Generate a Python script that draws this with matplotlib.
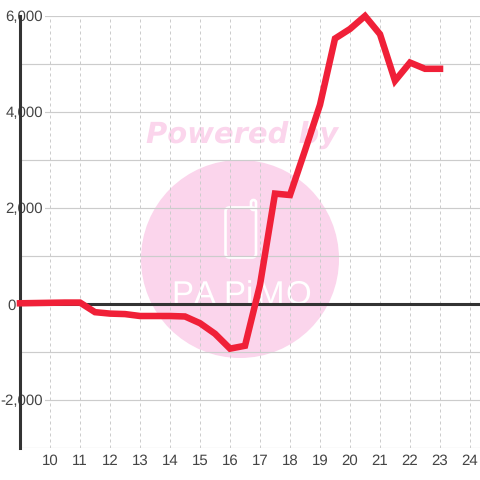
import matplotlib
matplotlib.use("Agg")
import matplotlib.pyplot as plt
from matplotlib.patches import Circle, FancyBboxPatch
from matplotlib.transforms import Affine2D

# ====== DATA ======
hours = [9, 9.5, 10, 10.5, 11, 11.5, 12, 12.5, 13, 13.5, 14, 14.5, 15, 15.5, 16, 16.5,
         17, 17.5, 18, 18.5, 19, 19.5, 20, 20.5, 21, 21.5, 22, 22.5, 23]
values = [15, 20, 25, 30, 30, -170, -200, -210, -250, -250, -250, -260, -400, -620, -930, -870,
          400, 2300, 2270, 3200, 4150, 5530, 5730, 6000, 5620, 4650, 5030, 4900, 4900]
x_ticks = list(range(10, 25))
y_ticks = [-2000, 0, 2000, 4000, 6000]
y_grid = [-3000, -1000, 1000, 3000, 5000]
logo_letters = list("PAPiMO")

PINK = "#fbd5ec"
RED = "#f02038"
DARK = "#333333"
GRID = "#cccccc"

plt.rcParams["font.family"] = ["Liberation Sans", "DejaVu Sans"]
plt.rcParams["text.hinting"] = "no_hinting"
plt.rcParams["text.hinting_factor"] = 1

fig = plt.figure(figsize=(4.8, 4.8), dpi=100)
ax = fig.add_axes([20 / 480, 32 / 480, 460 / 480, 432 / 480])
ax.set_xlim(9, 24.333)
ax.set_ylim(-3000, 6000)

# pixel coords for the watermark, y going down like the image
px = Affine2D().scale(1, -1).translate(0, 480)
ax.add_patch(Circle((240, 259), 99, color=PINK, lw=0, transform=px, zorder=0))
ax.text(242, 135, "Powered by", transform=px, color=PINK, fontsize=20.7, fontweight="bold",
        fontstyle="oblique", family="DejaVu Sans", ha="center", va="center", zorder=0.1)
ax.add_patch(FancyBboxPatch((225.5, 207.5), 30.5, 50, boxstyle="round,pad=0,rounding_size=4", fc="none",
                            ec="white", lw=1.9, transform=px, zorder=0.1))
ax.add_patch(FancyBboxPatch((251, 200), 5, 10, boxstyle="round,pad=0,rounding_size=2.5", fc="none",
                            ec="white", lw=1.9, transform=px, zorder=0.1))
for lx, ch in zip([182, 205, 234, 249, 270, 298], logo_letters):
    ax.text(lx, 304, ch, transform=px, color="white", fontsize=24, ha="center", va="baseline", zorder=0.2)

ax.set_axisbelow(True)
ax.set_yticks(y_ticks)
ax.set_yticks(y_grid, minor=True)
ax.set_xticks(x_ticks)
ax.set_yticklabels([f"{v:,}" for v in y_ticks])
ax.grid(True, axis="y", which="both", color=GRID, lw=0.85)
ax.grid(True, axis="x", color=GRID, lw=0.72, ls=(0, (3, 3)))
ax.tick_params(which="both", length=0)
ax.tick_params(axis="y", pad=-16.5, labelsize=11, labelcolor="#444444")
ax.tick_params(axis="x", pad=4.5, labelsize=11, labelcolor="#444444")
for tick, v in zip(ax.yaxis.get_major_ticks(), y_ticks):
    if v == 0:
        # the zero label sits left of the axis line
        tick.set_pad(2.9)
    else:
        tick.label1.set_bbox(dict(fc="white", ec="none", pad=1.5))

ax.axhline(0, color=DARK, lw=2.2, zorder=2)
ax.plot(hours, values, color=RED, lw=4.7, zorder=3, clip_on=False,
        solid_joinstyle="miter", solid_capstyle="projecting")

for side in ["top", "right", "bottom"]:
    ax.spines[side].set_visible(False)
ax.spines["left"].set_color(DARK)
ax.spines["left"].set_linewidth(2.2)

fig.savefig("out.png", dpi=100)
